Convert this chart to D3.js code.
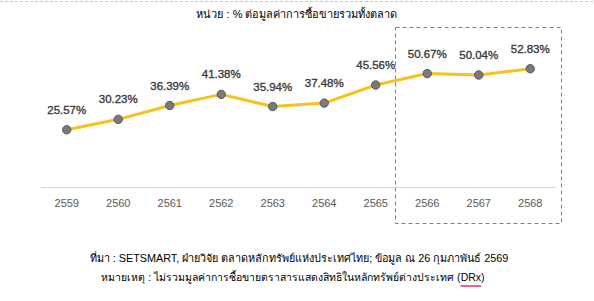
<!DOCTYPE html>
<html><head><meta charset="utf-8">
<script src="https://cdn.jsdelivr.net/npm/d3@7"></script>
<style>
html,body{margin:0;padding:0;background:#fff;}
svg{display:block;font-family:"Liberation Sans",Arial,sans-serif;}
</style></head>
<body>
<svg id="c" width="594" height="301"></svg>
<script>
const years = ["2559","2560","2561","2562","2563","2564","2565","2566","2567","2568"];
const values = [25.57,30.23,36.39,41.38,35.94,37.48,45.56,50.67,50.04,52.83];
const highlighted = ["2566","2567","2568"];
const title = "หน่วย : % ต่อมูลค่าการซื้อขายรวมทั้งตลาด";
const source = "ที่มา : SETSMART, ฝ่ายวิจัย ตลาดหลักทรัพย์แห่งประเทศไทย; ข้อมูล ณ 26 กุมภาพันธ์ 2569";
const notePrefix = "หมายเหตุ : ไม่รวมมูลค่าการซื้อขายตราสารแสดงสิทธิในหลักทรัพย์ต่างประเทศ (";
const noteWord = "DRx";
const noteSuffix = ")";

const svg = d3.select("#c");
const W = 594;
const x = d3.scaleBand().domain(years).range([41, 556]);
const y = d3.scaleLinear().domain([0, 60]).range([187, 52.7]);

// top dashed border
svg.append("line").attr("x1",0).attr("x2",W).attr("y1",1.5).attr("y2",1.5)
  .attr("stroke","#c8c8c8").attr("stroke-dasharray","3,2").attr("stroke-width",1);

// title
svg.append("text").attr("x",297).attr("y",18).attr("text-anchor","middle")
  .attr("font-size",11).attr("fill","#000").text(title);

// highlight dashed box
const hx0 = x(highlighted[0]) - 7, hx1 = x(highlighted[highlighted.length-1]) + x.bandwidth() + 4;
svg.append("rect").attr("x",Math.round(hx0)+0.5).attr("y",27.5)
  .attr("width",Math.round(hx1-hx0)).attr("height",196)
  .attr("fill","none").attr("stroke","#808080").attr("stroke-dasharray","4,3").attr("stroke-width",1);

// axis
const ax = svg.append("g").attr("transform","translate(0,187)").call(d3.axisBottom(x).tickSize(0).tickPadding(12));
ax.select(".domain").attr("stroke","#d9d9d9").attr("d","M41.5,0.5H556");
ax.selectAll("text").attr("font-size",11).attr("fill","#595959").attr("font-family","Liberation Sans, Arial, sans-serif");

const cx = d => x(d) + x.bandwidth()/2;
const data = years.map((yr,i)=>({yr, v: values[i]}));

svg.append("path").datum(data)
  .attr("d", d3.line().x(d=>cx(d.yr)).y(d=>y(d.v)))
  .attr("fill","none").attr("stroke","#F7C21B").attr("stroke-width",3).attr("stroke-linejoin","round");

svg.selectAll("circle.pt").data(data).join("circle").attr("class","pt")
  .attr("cx",d=>cx(d.yr)).attr("cy",d=>y(d.v)).attr("r",4.2)
  .attr("fill","#7a7a7a").attr("stroke","#595959").attr("stroke-width",1);

svg.selectAll("text.lbl").data(data).join("text").attr("class","lbl")
  .attr("x",d=>cx(d.yr)).attr("y",d=>y(d.v)-16).attr("text-anchor","middle")
  .attr("font-size",11.5).attr("fill","#3a3a3a").attr("stroke","#3a3a3a").attr("stroke-width",0.35)
  .text(d=>d.v.toFixed(2)+"%");

// footnotes
svg.append("text").attr("x",299).attr("y",262).attr("text-anchor","middle")
  .attr("font-size",10.8).attr("fill","#000").text(source);
const note = svg.append("text").attr("x",293).attr("y",281).attr("text-anchor","middle")
  .attr("font-size",10.5).attr("fill","#000");
note.append("tspan").text(notePrefix);
note.append("tspan").text(noteWord);
note.append("tspan").text(noteSuffix);
const full = note.node();
const n = notePrefix.length;
const s = full.getStartPositionOfChar(n), e = full.getEndPositionOfChar(n+noteWord.length-1);
svg.append("line").attr("x1",s.x).attr("x2",e.x).attr("y1",286).attr("y2",286)
  .attr("stroke","#e0306a").attr("stroke-width",1.5);
</script>
</body></html>
